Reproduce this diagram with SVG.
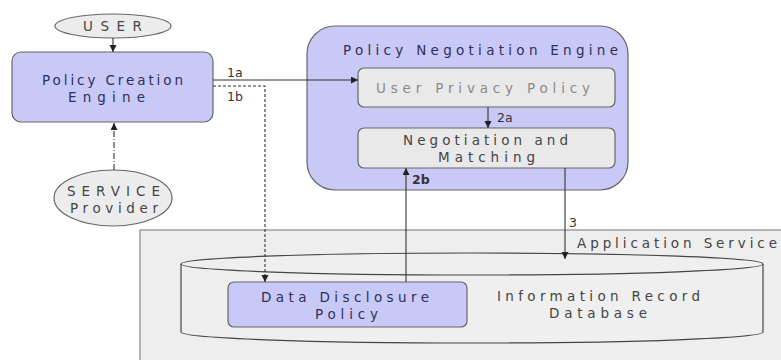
<svg xmlns="http://www.w3.org/2000/svg" width="781" height="360" viewBox="0 0 781 360">
<defs>
<marker id="ah" markerUnits="userSpaceOnUse" markerWidth="8" markerHeight="8" refX="7" refY="3.5" orient="auto">
<path d="M0,0 L7,3.5 L0,7 z" fill="#222"/>
</marker>
<style>
text{font-family:"DejaVu Sans","Liberation Sans",sans-serif;font-size:13.5px;}
.lav{fill:#c9c9f7;stroke:#666;stroke-width:1.2;}
.gray{fill:#e9e9ea;stroke:#666;stroke-width:1.2;}
.ell{fill:#ececec;stroke:#666;stroke-width:1.2;}
.tn{fill:#2e2e5a;}
.tg{fill:#444;}
.tl{fill:#8a8a8a;}
.lbl{font-size:12.5px;fill:#333;}
.con{fill:none;stroke:#333;stroke-width:1.1;}
</style>
</defs>
<rect width="781" height="360" fill="#fff"/>

<g id="application-service">
<rect x="140" y="230" width="660" height="140" fill="#eeeeee" stroke="#888" stroke-width="1.2"/>
<text x="577" y="248" textLength="200" lengthAdjust="spacing" class="tg">Application Service</text>
</g>

<g id="information-record-database">
<path d="M181,264 A291,11 0 0 1 763,264 V332 A291,11 0 0 1 181,332 Z" fill="#efefef" stroke="#444" stroke-width="1.2"/>
<path d="M181,264 A291,11 0 0 0 763,264" fill="none" stroke="#444" stroke-width="1.2"/>
<text x="497" y="301" textLength="203" lengthAdjust="spacing" class="tg">Information Record</text>
<text x="549" y="318" textLength="98" lengthAdjust="spacing" class="tg">Database</text>
</g>

<g id="data-disclosure-policy">
<rect x="228" y="282" width="239" height="45" rx="6" class="lav"/>
<text x="261" y="302" textLength="168" lengthAdjust="spacing" class="tn">Data Disclosure</text>
<text x="315" y="319" textLength="63" lengthAdjust="spacing" class="tn">Policy</text>
</g>

<g id="user">
<ellipse cx="113" cy="26" rx="58" ry="12" class="ell"/>
<text x="83" y="31" textLength="59" lengthAdjust="spacing" class="tg">USER</text>
</g>

<g id="policy-creation-engine">
<rect x="12" y="52" width="201" height="70" rx="9" class="lav"/>
<text x="42" y="85" textLength="141" lengthAdjust="spacing" class="tn">Policy Creation</text>
<text x="68" y="102" textLength="77" lengthAdjust="spacing" class="tn">Engine</text>
</g>

<g id="service-provider">
<ellipse cx="113" cy="198" rx="59" ry="28" class="ell"/>
<text x="67" y="196" textLength="93" lengthAdjust="spacing" class="tg">SERVICE</text>
<text x="70" y="213" textLength="88" lengthAdjust="spacing" class="tg">Provider</text>
</g>

<g id="policy-negotiation-engine">
<rect x="307" y="26" width="321" height="164" rx="28" class="lav"/>
<text x="343" y="55" textLength="275" lengthAdjust="spacing" class="tn">Policy Negotiation Engine</text>
</g>

<g id="user-privacy-policy">
<rect x="358" y="68" width="257" height="39" rx="6" class="gray"/>
<text x="376" y="93" textLength="214" lengthAdjust="spacing" class="tl">User Privacy Policy</text>
</g>

<g id="negotiation-matching">
<rect x="358" y="128" width="257" height="40" rx="6" class="gray"/>
<text x="403" y="145" textLength="165" lengthAdjust="spacing" class="tg">Negotiation and</text>
<text x="438" y="162" textLength="97" lengthAdjust="spacing" class="tg">Matching</text>
</g>

<g id="connectors">
<line x1="113" y1="38" x2="113" y2="52" class="con" marker-end="url(#ah)"/>
<line x1="213" y1="80" x2="358" y2="80" class="con" marker-end="url(#ah)"/>
<path d="M213,86 H265 V282" class="con" stroke-dasharray="3,2" marker-end="url(#ah)"/>
<line x1="114" y1="170" x2="114" y2="123" class="con" stroke-dasharray="6,2,1,2" marker-end="url(#ah)"/>
<line x1="488" y1="107" x2="488" y2="128" class="con" marker-end="url(#ah)"/>
<line x1="406" y1="282" x2="406" y2="168" class="con" marker-end="url(#ah)"/>
<line x1="565" y1="168" x2="565" y2="259" class="con" marker-end="url(#ah)"/>
<text x="227" y="77" class="lbl">1a</text>
<text x="227" y="101" class="lbl">1b</text>
<text x="497" y="122" class="lbl tn">2a</text>
<text x="412" y="184" class="lbl tn" font-weight="bold">2b</text>
<text x="569" y="227" class="lbl">3</text>
</g>
</svg>
